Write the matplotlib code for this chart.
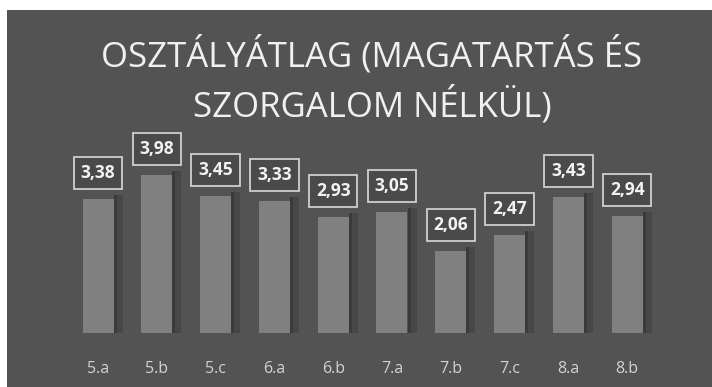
import matplotlib
matplotlib.use("Agg")
import matplotlib.pyplot as plt
from matplotlib.patches import Rectangle

# Class averages (without behaviour and diligence grades)
classes = ["5.a", "5.b", "5.c", "6.a", "6.b", "7.a", "7.b", "7.c", "8.a", "8.b"]
averages = [3.38, 3.98, 3.45, 3.33, 2.93, 3.05, 2.06, 2.47, 3.43, 2.94]
value_labels = ["3,38", "3,98", "3,45", "3,33", "2,93", "3,05", "2,06", "2,47", "3,43", "2,94"]
title_lines = ["OSZTÁLYÁTLAG (MAGATARTÁS ÉS", "SZORGALOM NÉLKÜL)"]

W, H = 712, 387
fig = plt.figure(figsize=(W / 100, H / 100), dpi=100, facecolor="white")

BG = "#535353"
BAR = "#808080"
BAR_SIDE = "#474747"
BAR_EDGE = "#3a3a3a"
FONT = "Open Sans"

# dark slide panel
fig.patches.append(Rectangle((7 / W, 0), 1 - 7 / W, 1 - 10 / H,
                             transform=fig.transFigure, facecolor=BG,
                             edgecolor="none", zorder=-5))

# plot area: baseline at y=333 px from the top
base_frac = (H - 333) / H
ax = fig.add_axes([0, base_frac, 1, 1 - base_frac])
ax.set_zorder(2)
ax.set_facecolor("none")
px_per_unit = 39.7
step = 58.8
x0 = 98
ax.set_xlim(-x0 / step, (W - x0) / step)
ax.set_ylim(0, 333 / px_per_unit)
for s in ax.spines.values():
    s.set_visible(False)
ax.set_yticks([])

xs = list(range(len(classes)))
bw = 31 / step
depth = 9 / step
seam = 3 / step
lift = 4 / px_per_unit

# 3D side faces of the columns
ax.bar([x + bw / 2 + depth / 2 for x in xs], [v + lift for v in averages],
       width=depth, color=BAR_SIDE, zorder=2)
ax.bar([x + bw / 2 + seam / 2 for x in xs], [v + lift for v in averages],
       width=seam, color=BAR_EDGE, zorder=2.5)
ax.bar(xs, averages, width=bw, color=BAR, zorder=3)

for x, v, lab in zip(xs, averages, value_labels):
    ax.text(x, v + 26 / px_per_unit, lab, ha="center", va="center",
            fontsize=12.5, fontweight="bold", color="#f2f2f2", family=FONT,
            zorder=5,
            bbox=dict(boxstyle="square,pad=0.4", facecolor="#4a4a4a",
                      edgecolor="#cfcfcf", linewidth=1.3))

ax.set_xticks(xs)
ax.set_xticklabels(classes, fontsize=11.5, color="#d2d2d2", family=FONT)
ax.tick_params(axis="x", length=0, pad=20)

# two-line title, baselines 50 px apart
for line, baseline in zip(title_lines, [66, 116]):
    fig.text(372 / W, 1 - baseline / H, line, ha="center", va="baseline",
             fontsize=25, color="#f0f0f0", family=FONT, zorder=3)

fig.savefig("out.png", dpi=100, facecolor="white")
